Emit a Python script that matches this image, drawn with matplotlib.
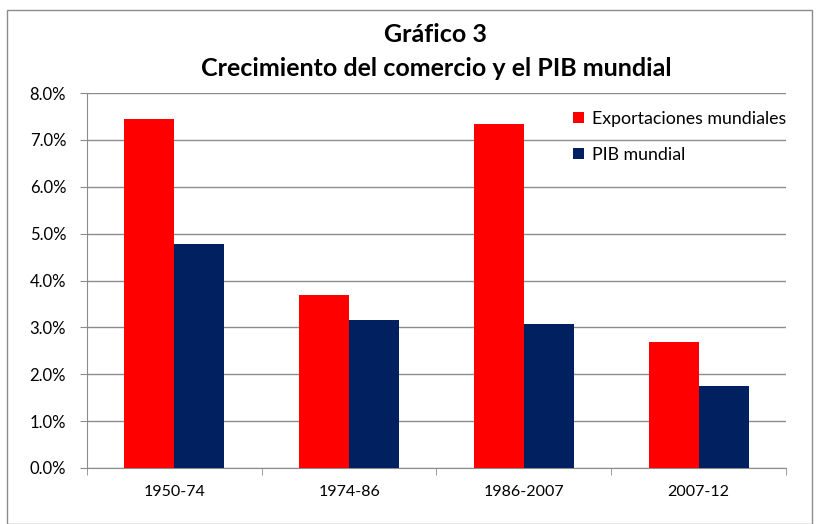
import numpy as np
import matplotlib
matplotlib.use('Agg')
import matplotlib.pyplot as plt
from matplotlib.patches import Rectangle

plt.rcParams['font.family'] = ['Lato', 'DejaVu Sans']

periodos = ['1950-74', '1974-86', '1986-2007', '2007-12']
exportaciones = [7.44, 3.69, 7.33, 2.69]
pib = [4.77, 3.16, 3.07, 1.76]

rojo = '#FF0000'
azul = '#002060'
gris = '#8C8C8C'

fig = plt.figure(figsize=(8.16, 5.24), dpi=100)
ax = fig.add_axes([87/816, 56/524, 699/816, 375/524])

x = np.arange(len(periodos))
w = 0.286
ax.bar(x - w/2, exportaciones, w, color=rojo, label='Exportaciones mundiales', zorder=3)
ax.bar(x + w/2, pib, w, color=azul, label='PIB mundial', zorder=3)

ax.set_xlim(-0.5, 3.5)
ax.set_ylim(0, 8)
ax.set_yticks(np.arange(0, 9, 1))
ax.set_yticklabels(['%.1f%%' % v for v in np.arange(0, 9, 1)], fontsize=12)
ax.set_xticks(x)
ax.set_xticklabels(periodos, fontsize=11.5)
ax.set_xticks(np.arange(-0.5, 4, 1), minor=True)
ax.tick_params(axis='x', which='major', length=0, pad=12)
ax.tick_params(axis='x', which='minor', length=5, color=gris, direction='out')
ax.tick_params(axis='y', length=5, color=gris, pad=10)
ax.grid(axis='y', color=gris, linewidth=1, zorder=0)
for s in ['top', 'right']:
    ax.spines[s].set_visible(False)
for s in ['left', 'bottom']:
    ax.spines[s].set_color(gris)

fig.text(435/816, 1 - 35/524, 'Gráfico 3', ha='center', va='center', fontsize=18, fontweight='bold')
fig.text(436/816, 1 - 68/524, 'Crecimiento del comercio y el PIB mundial', ha='center', va='center',
         fontsize=18, fontweight='bold')

ax.legend(loc='upper left', bbox_to_anchor=(557/816, 1 - 95/524), bbox_transform=fig.transFigure,
          frameon=False, fontsize=12.8, handlelength=0.6, handleheight=0.6, handletextpad=0.45,
          labelspacing=1.1)

fig.patches.append(Rectangle((7/816, 0), 805/816, 514/524, transform=fig.transFigure,
                             fill=False, edgecolor=gris, linewidth=1))

fig.savefig('out.png', dpi=100)
